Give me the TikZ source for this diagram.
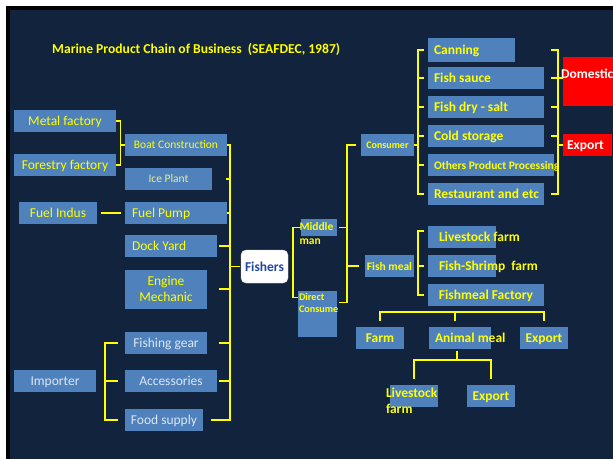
\documentclass[tikz,border=0pt]{standalone}
\usepackage{fontspec}
\setmainfont{Carlito}
\usepackage{tikz}
\usepackage{xcolor}
\usetikzlibrary{positioning}

\definecolor{navy}{HTML}{11233D}
\definecolor{boxblue}{HTML}{4F81BD}
\definecolor{ylw}{HTML}{FFFF00}
\definecolor{paleylw}{HTML}{EDED8C}
\definecolor{palewht}{HTML}{DCE6F2}
\definecolor{boxred}{HTML}{FF0000}
\definecolor{fishblue}{HTML}{2346A0}

\begin{document}
\begin{tikzpicture}[x=1pt, y=-1pt,
    blk/.style={fill=boxblue, inner sep=0pt, minimum height=22pt, text=ylw, text depth=0pt},
    redblk/.style={fill=boxred, inner sep=0pt},
    lbl/.style={inner sep=0pt, anchor=west, text=ylw, text depth=0pt},
    link/.style={draw=ylw, line width=1.1pt},
    rg/.style={font=\fontsize{13.5}{16.5}\selectfont},
    rgs/.style={font=\fontsize{11.5}{14}\selectfont},
    bd/.style={font=\bfseries\fontsize{13.5}{16}\selectfont},
    bds/.style={font=\bfseries\fontsize{11.5}{14}\selectfont}]
    \useasboundingbox (0,0) rectangle (613,459);
    % slide frame
    \fill[white] (0,0) rectangle (613,459);
    \fill[black] (6,6) rectangle (613,459);
    \fill[navy] (10,10) rectangle (613,459);

    \node[lbl, font=\bfseries\fontsize{13.6}{15}\selectfont] (title) at (52,48.5)
        {Marine Product Chain of Business\ \ (SEAFDEC, 1987)};

    % suppliers of the fishers
    \node[blk, rg, minimum width=102pt] (metal) at (65,121) {Metal factory};
    \node[blk, rg, minimum width=102pt] (forestry) at (65,165) {Forestry factory};
    \node[blk, rgs, minimum width=102pt] (boat) at (176,145) {Boat Construction};
    \node[blk, rgs, minimum width=87pt, text=paleylw] (ice) at (168.5,179) {Ice Plant};
    \node[blk, rg, minimum width=78pt] (fuelind) at (58,213) {Fuel Indus};
    \node[blk, minimum width=102pt] (fuelpump) at (176,213) {};
    \node[lbl, rg] (fuelpumpt) at ([xshift=7pt]fuelpump.west) {Fuel Pump};
    \node[blk, minimum width=92pt] (dock) at (171,246) {};
    \node[lbl, rg] (dockt) at ([xshift=7pt]dock.west) {Dock Yard};
    \node[blk, rg, minimum width=82pt, minimum height=39pt, align=center, text depth=] (engine) at (166,289) {Engine\\Mechanic};
    \node[blk, rg, minimum width=82pt, text=palewht] (gear) at (166,343) {Fishing gear};
    \node[blk, rg, minimum width=82pt, text=palewht] (importer) at (55,381) {Importer};
    \node[blk, rg, minimum width=92pt, text=palewht] (access) at (171,381) {Accessories};
    \node[blk, rg, minimum width=78pt, text=palewht] (food) at (164,420) {Food supply};

    \node[fill=white, draw=gray!30, rounded corners=5pt, inner sep=0pt, minimum width=47pt,
        minimum height=33pt, text=fishblue, bd, text depth=0pt] (fishers) at (264.5,266.5) {Fishers};

    % middle man / direct
    \node[blk, minimum width=36pt, minimum height=17pt] (middle) at (319,227.5) {};
    \node[lbl, bds, anchor=north west, align=left, text depth=] (middlet) at ([xshift=-1.5pt,yshift=-3.5pt]middle.north west) {Middle\\man};
    \node[blk, minimum width=39pt, minimum height=46pt] (direct) at (317.5,314) {};
    \node[lbl, anchor=north west, align=left, text depth=, font=\bfseries\fontsize{10.2}{12.3}\selectfont] (directt)
        at ([xshift=1pt,yshift=-2.5pt]direct.north west) {Direct\\Consume};
    \node[blk, minimum width=53pt, font=\bfseries\fontsize{10}{12}\selectfont] (consumer) at (387.5,145) {Consumer};
    \node[blk, bds, minimum width=49pt] (fishmeal) at (389.5,266) {Fish meal};

    % processing
    \node[blk, minimum width=87pt, minimum height=24pt] (canning) at (471.5,50) {};
    \node[lbl, bd] (canningt) at ([xshift=6pt]canning.west) {Canning};
    \node[blk, minimum width=116pt] (sauce) at (486,78) {};
    \node[lbl, bd] (saucet) at ([xshift=6pt]sauce.west) {Fish sauce};
    \node[blk, minimum width=116pt] (drysalt) at (486,107) {};
    \node[lbl, bd] (drysaltt) at ([xshift=6pt]drysalt.west) {Fish dry - salt};
    \node[blk, minimum width=116pt] (cold) at (486,136) {};
    \node[lbl, bd] (coldt) at ([xshift=6pt]cold.west) {Cold storage};
    \node[blk, minimum width=126pt] (others) at (491,165) {};
    \node[lbl, bds] (otherst) at ([xshift=6pt]others.west) {Others Product Processing};
    \node[blk, minimum width=116pt] (rest) at (486,194) {};
    \node[lbl, bd] (restt) at ([xshift=6pt]rest.west) {Restaurant and etc};

    \node[redblk, minimum width=50pt, minimum height=49pt] (domestic) at (588,81.5) {};
    \node[lbl, bd, text=white] (domestict) at ([xshift=-2pt,yshift=7.5pt]domestic.west) {Domestic};
    \node[redblk, minimum width=49pt, minimum height=22pt] (exportA) at (587.5,145) {};
    \node[lbl, bd, text=white] (exportAt) at ([xshift=4pt]exportA.west) {Export};

    % fish meal branch
    \node[blk, minimum width=68pt] (livestock) at (462,237) {};
    \node[lbl, bd] (livestockt) at ([xshift=11pt]livestock.west) {Livestock farm};
    \node[blk, minimum width=68pt] (shrimp) at (462,266) {};
    \node[lbl, bd] (shrimpt) at ([xshift=11pt]shrimp.west) {Fish-Shrimp\ \ farm};
    \node[blk, bd, minimum width=116pt] (fmfactory) at (486,295) {Fishmeal Factory};
    \node[blk, bd, minimum width=48pt] (farm) at (380,338) {Farm};
    \node[blk, minimum width=62pt] (animal) at (460,338) {};
    \node[lbl, bd] (animalt) at ([xshift=6pt]animal.west) {Animal meal};
    \node[blk, bd, minimum width=48pt] (exportB) at (544,338) {Export};
    \node[blk, minimum width=48pt] (livestockB) at (414,396) {};
    \node[lbl, bd, anchor=north west, align=left, text depth=] (livestockBt) at ([xshift=-4pt,yshift=-3pt]livestockB.north west) {Livestock\\farm};
    \node[blk, bd, minimum width=48pt] (exportC) at (491,396) {Export};

    % brackets, left side
    \draw[link] (metal.east) -- ++(4,0) |- (forestry.east);
    \draw[link] (boat.west) -- ++(-5,0);
    \draw[link] ([xshift=4pt]fuelind.east) -- ([xshift=-4pt]fuelpump.west);
    \coordinate (spI) at (105,0);
    \draw[link] ([xshift=-7pt]gear.west) -| (spI |- food.west) -- ([xshift=-7pt]food.west);
    \draw[link] ([xshift=-7pt]access.west) -- (access.west -| spI);
    \coordinate (spB) at (230,0);
    \draw[link] (boat.east) -| (spB |- food.east) -- ([xshift=8pt]food.east);
    \foreach \n/\g in {ice/14, fuelpump/0, dock/2, engine/12, gear/12, access/2}
        \draw[link] ([xshift=\g pt]\n.east) -- (\n.east -| spB);
    \draw[link] (spB |- fishers.west) -- ([xshift=-1pt]fishers.west);

    % fishers to middle man / direct
    \coordinate (spC) at (293,0);
    \coordinate (dtop) at ([yshift=-7pt]direct.north west);
    \draw[link] (middle.west) -| (spC |- dtop) -- (dtop);
    \coordinate (spD) at (347,0);
    \coordinate (dbot) at ([xshift=2pt,yshift=-12pt]direct.north east);
    \draw[link] ([xshift=-5pt]consumer.west) -| (spD |- dbot) -- (dbot);
    \draw[link] ([xshift=2pt]middle.east) -- (middle.east -| spD);
    \draw[link] (spD |- fishmeal.west) -- ([xshift=-6pt]fishmeal.west);

    % consumer to processing
    \coordinate (spE) at (418,0);
    \draw[link] ([xshift=-4pt]canning.west) -| (spE |- rest.west) -- ([xshift=-4pt]rest.west);
    \foreach \n in {sauce, drysalt, cold, others}
        \draw[link] ([xshift=-4pt]\n.west) -- (\n.west -| spE);
    \draw[link] (consumer.east) -- (consumer.east -| spE);

    % processing to markets
    \coordinate (spF) at (558,0);
    \coordinate (tkF) at (551,0);
    \draw[link] (tkF |- canning.east) -| (spF |- rest.east) -- (tkF |- rest.east);
    \draw[link] (tkF |- sauce.east) -- (domestic.west |- sauce.east);
    \foreach \n in {drysalt, cold}
        \draw[link] (tkF |- \n.east) -- (spF |- \n.east);
    \draw[link] (spF |- exportA.west) -- (exportA.west);

    % fish meal branch
    \draw[link] ([xshift=-4pt,yshift=6pt]livestock.west) -| (spE |- fmfactory.west) -- ([xshift=-4pt]fmfactory.west);
    \draw[link] ([xshift=-4pt]shrimp.west) -- (shrimp.west -| spE);
    \coordinate (hH) at (0,312);
    \draw[link] ([yshift=6pt]farm.north) |- (hH -| exportB.north) -- ([yshift=6pt]exportB.north);
    \coordinate (amid) at ([xshift=-5pt]animal.north);
    \draw[link] ([yshift=6pt]amid) -- (amid |- hH);
    \coordinate (hI) at (0,360);
    \coordinate (asub) at ([xshift=-3pt,yshift=-2pt]animal.south);
    \draw[link] (asub) -- (asub |- hI);
    \draw[link] ([yshift=6pt]livestockB.north) |- (hI -| exportC.north) -- ([yshift=6pt]exportC.north);
\end{tikzpicture}
\end{document}
